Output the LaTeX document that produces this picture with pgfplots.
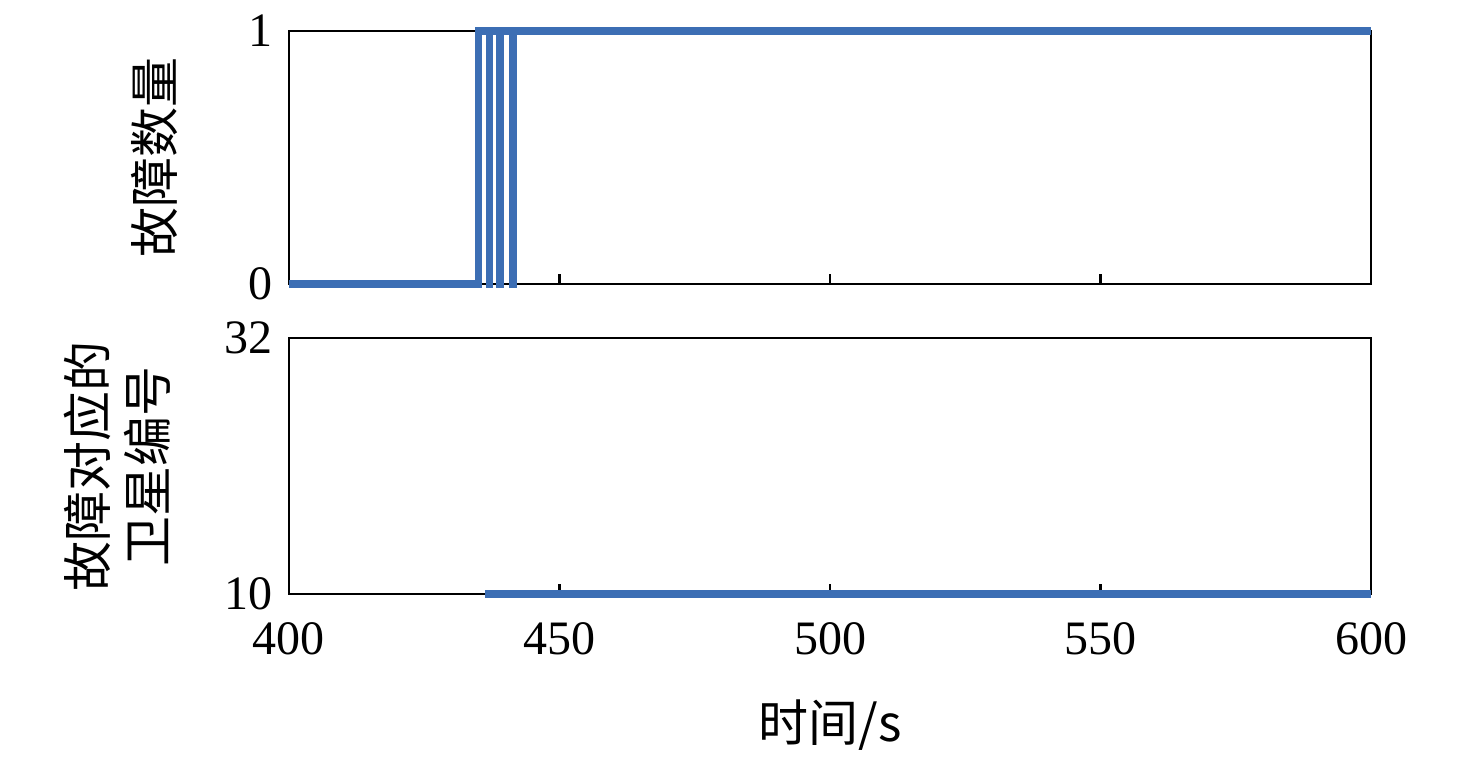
\documentclass[border=0pt]{standalone}
\usepackage{fontspec}
\setmainfont{Liberation Serif}
\newfontfamily\cjk{Noto Sans CJK SC}
\usepackage{pgfplots}
\pgfplotsset{compat=1.18}
\definecolor{myblue}{RGB}{60,110,180}
\begin{document}
\fontsize{24}{28}\selectfont
\begin{tikzpicture}
\pgfplotsset{
  every axis/.append style={
    scale only axis, width=541pt, height=126.5pt,
    xmin=400, xmax=600, clip=false,
    axis line style={line width=1.4pt},
    every tick/.style={black, line width=1.4pt},
    major tick length=5pt,
    tick align=inside, xtick pos=bottom, ytick pos=left,
    xtick={400,450,500,550,600},
    /pgf/number format/assume math mode=true,
    tick label style={font=\fontsize{24}{28}\selectfont},
    xticklabel style={yshift=-6pt},
    label style={font=\fontsize{25}{30}\selectfont\cjk},
  }
}
\begin{axis}[name=top, anchor=north west, at={(0,0)},
  ymin=0, ymax=1, ytick={0,1}, xticklabels={},
  ylabel={故障数量},
  ylabel style={at={(axis description cs:-0.124,0.5)}, anchor=center, rotate=0},
]
\addplot[myblue, line width=3.6pt, line join=miter] coordinates {
(400,0) (435.1,0) (435.1,1) (437.0,1) (437.0,0) (437.05,0) (437.05,1)
(439.0,1) (439.0,0) (439.05,0) (439.05,1)
(441.4,1) (441.4,0) (441.45,0) (441.45,1) (600,1)};
\end{axis}
\begin{axis}[name=bot, anchor=north west, at={(0,-153.5pt)}, height=128pt,
  ymin=10, ymax=32, ytick={10,32},
  xlabel={时间/s},
  xlabel style={at={(axis description cs:0.5,-0.512)}, anchor=center},
  ylabel={故障对应的\\卫星编号},
  ylabel style={at={(axis description cs:-0.159,0.5)}, anchor=center, align=center},
]
\addplot[myblue, line width=3.6pt] coordinates {(436.2,10) (600,10)};
\end{axis}
\pgfresetboundingbox
\useasboundingbox (-144.5pt,-364.5pt) rectangle (593.5pt,15.5pt);
\end{tikzpicture}
\end{document}
